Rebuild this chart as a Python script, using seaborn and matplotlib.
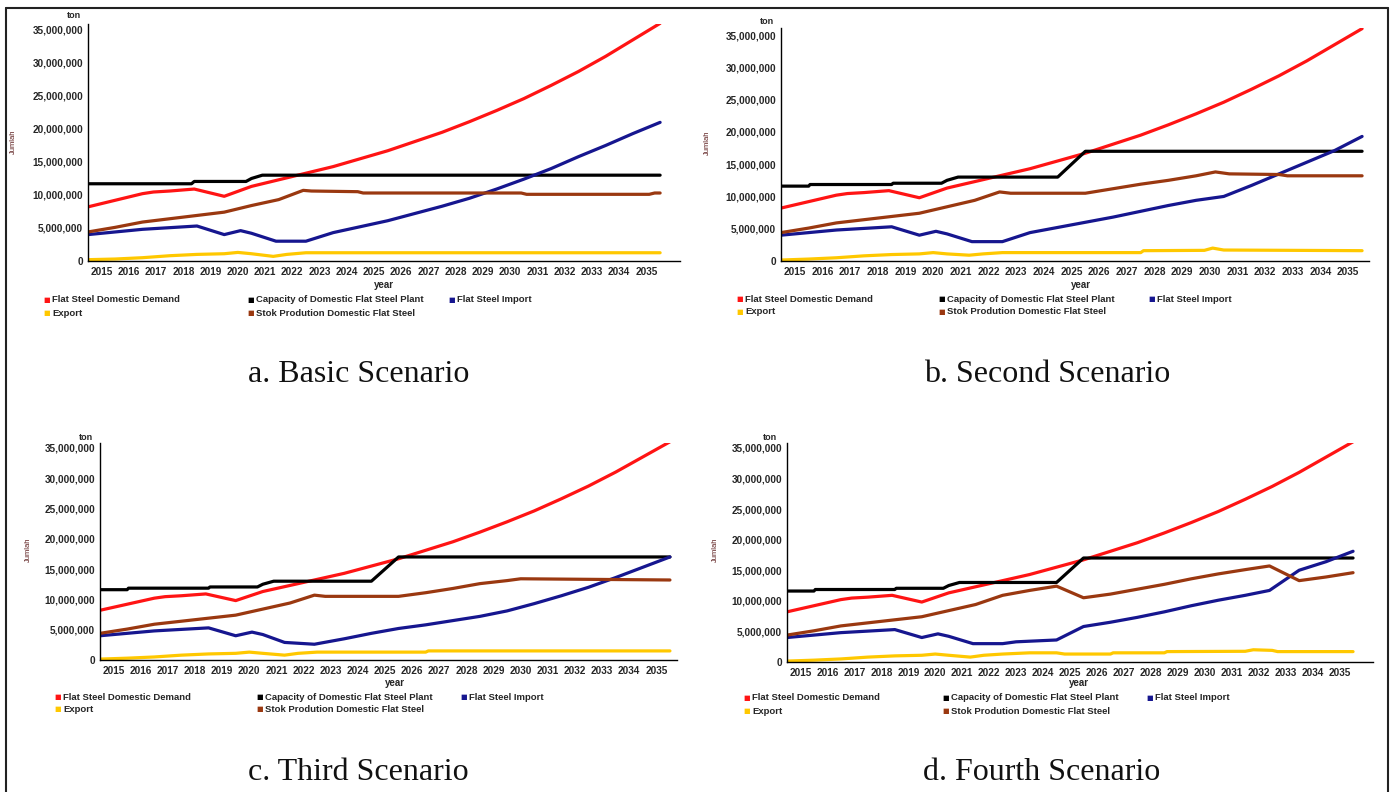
"""
Flat steel system-dynamics results: four scenarios in a 2x2 layout.
"""
import numpy as np
import pandas as pd
import seaborn as sns
import matplotlib
matplotlib.use("Agg")
import matplotlib.pyplot as plt
from matplotlib.lines import Line2D
from matplotlib.ticker import FuncFormatter, MultipleLocator

W, H = 1392, 792

SERIES = [
    "Flat Steel Domestic Demand",
    "Capacity of Domestic Flat Steel Plant",
    "Flat Steel Import",
    "Export",
    "Stok Prodution Domestic Flat Steel",
]
COLORS = ["#ff1414", "#000000", "#16168f", "#ffc800", "#9a3810"]
YEARS = list(range(2015, 2036))

# values in million ton, (year, value) breakpoints
DEMAND = [(2015, 8.2), (2016, 9.2), (2017, 10.2), (2017.4, 10.45), (2018, 10.6),
          (2018.9, 10.9), (2020, 9.8), (2021, 11.3), (2022, 12.3), (2023, 13.3),
          (2024, 14.3), (2025, 15.5), (2026, 16.7), (2027, 18.1), (2028, 19.5),
          (2029, 21.1), (2030, 22.8), (2031, 24.6), (2032, 26.6), (2033, 28.7),
          (2034, 31.0), (2035, 33.5), (2036, 36.0)]

CAPACITY_A = [(2015, 11.7), (2018.8, 11.7), (2018.9, 12.05), (2020.8, 12.05),
              (2021.0, 12.5), (2021.4, 13.0), (2036, 13.0)]
CAPACITY_BCD = [(2015, 11.6), (2016, 11.6), (2016.05, 11.85), (2019, 11.85),
                (2019.05, 12.05), (2020.8, 12.05), (2021.0, 12.5), (2021.4, 13.0),
                (2025, 13.0), (2026, 17.0), (2036, 17.0)]

IMPORT_A = [(2015, 4.0), (2016, 4.4), (2017, 4.8), (2018, 5.05), (2019, 5.3),
            (2020, 4.0), (2020.6, 4.6), (2021, 4.2), (2021.9, 3.0), (2023, 3.0),
            (2024, 4.3), (2025, 5.2), (2026, 6.1), (2027, 7.2), (2028, 8.3),
            (2029, 9.5), (2030, 10.9), (2031, 12.4), (2032, 14.0), (2033, 15.8),
            (2034, 17.5), (2035, 19.3), (2036, 21.0)]
IMPORT_B = [(2015, 4.0), (2016, 4.4), (2017, 4.8), (2018, 5.05), (2019, 5.3),
            (2020, 4.0), (2020.6, 4.6), (2021, 4.2), (2021.9, 3.0), (2023, 3.0),
            (2024, 4.4), (2025, 5.2), (2026, 6.0), (2027, 6.8), (2028, 7.7),
            (2029, 8.6), (2030, 9.4), (2031, 10.0), (2032, 11.7), (2033, 13.5),
            (2034, 15.3), (2035, 17.1), (2036, 19.3)]
IMPORT_C = [(2015, 4.0), (2016, 4.4), (2017, 4.8), (2018, 5.05), (2019, 5.3),
            (2020, 4.0), (2020.6, 4.6), (2021, 4.2), (2021.8, 2.9), (2022.9, 2.6),
            (2024, 3.5), (2025, 4.4), (2026, 5.2), (2027, 5.8), (2028, 6.5),
            (2029, 7.2), (2030, 8.1), (2031, 9.3), (2032, 10.6), (2033, 12.0),
            (2034, 13.6), (2035, 15.3), (2036, 17.0)]
IMPORT_D = [(2015, 4.0), (2016, 4.4), (2017, 4.8), (2018, 5.05), (2019, 5.3),
            (2020, 4.0), (2020.6, 4.6), (2021, 4.2), (2021.9, 3.0), (2023, 3.0),
            (2023.5, 3.3), (2024, 3.4), (2025, 3.6), (2026, 5.8), (2027, 6.5),
            (2028, 7.3), (2029, 8.2), (2030, 9.2), (2031, 10.1), (2032, 10.9),
            (2032.9, 11.7), (2034, 15.0), (2035, 16.4), (2036, 18.1)]

EXPORT_A = [(2015, 0.2), (2016, 0.3), (2017, 0.5), (2018, 0.8), (2019, 1.0),
            (2020, 1.1), (2020.5, 1.3), (2021, 1.1), (2021.8, 0.7), (2022.3, 1.0),
            (2023, 1.25), (2036, 1.25)]
EXPORT_B = [(2015, 0.15), (2016, 0.3), (2017, 0.5), (2018, 0.8), (2019, 1.0),
            (2020, 1.1), (2020.5, 1.3), (2021, 1.1), (2021.8, 0.9), (2022.3, 1.1),
            (2023, 1.3), (2028, 1.3), (2028.1, 1.6), (2030.3, 1.65), (2030.6, 2.0),
            (2031, 1.7), (2036, 1.6)]
EXPORT_C = [(2015, 0.15), (2016, 0.3), (2017, 0.5), (2018, 0.8), (2019, 1.0),
            (2020, 1.1), (2020.5, 1.3), (2021, 1.1), (2021.8, 0.8), (2022.3, 1.1),
            (2023, 1.3), (2027, 1.3), (2027.1, 1.5), (2036, 1.5)]
EXPORT_D = [(2015, 0.15), (2016, 0.3), (2017, 0.5), (2018, 0.8), (2019, 1.0),
            (2020, 1.1), (2020.5, 1.3), (2021, 1.1), (2021.8, 0.8), (2022.3, 1.1),
            (2023, 1.3), (2024, 1.5), (2025, 1.5), (2025.3, 1.3), (2027, 1.3),
            (2027.1, 1.5), (2029, 1.5), (2029.1, 1.7), (2032, 1.75), (2032.3, 2.0),
            (2033, 1.9), (2033.2, 1.7), (2036, 1.7)]

STOCK_A = [(2015, 4.4), (2016, 5.1), (2017, 5.9), (2018, 6.4), (2019, 6.9),
           (2020, 7.4), (2021, 8.4), (2022, 9.3), (2022.9, 10.7), (2023.2, 10.6),
           (2024.9, 10.5), (2025.1, 10.3), (2030.9, 10.3), (2031.1, 10.1),
           (2035.6, 10.1), (2035.8, 10.3), (2036, 10.3)]
STOCK_B = [(2015, 4.4), (2016, 5.1), (2017, 5.9), (2018, 6.4), (2019, 6.9),
           (2020, 7.4), (2021, 8.4), (2022, 9.4), (2022.9, 10.7), (2023.3, 10.5),
           (2026, 10.5), (2027, 11.2), (2028, 11.9), (2029, 12.5), (2030, 13.2),
           (2030.7, 13.8), (2031.2, 13.5), (2033, 13.4), (2033.3, 13.2), (2036, 13.2)]
STOCK_C = [(2015, 4.4), (2016, 5.1), (2017, 5.9), (2018, 6.4), (2019, 6.9),
           (2020, 7.4), (2021, 8.4), (2022, 9.4), (2022.9, 10.7), (2023.3, 10.5),
           (2026, 10.5), (2027, 11.1), (2028, 11.8), (2029, 12.6), (2030, 13.1),
           (2030.5, 13.4), (2036, 13.2)]
STOCK_D = [(2015, 4.4), (2016, 5.1), (2017, 5.9), (2018, 6.4), (2019, 6.9),
           (2020, 7.4), (2021, 8.4), (2022, 9.4), (2023, 10.9), (2024, 11.7),
           (2025, 12.4), (2026, 10.5), (2027, 11.1), (2028, 11.9), (2029, 12.7),
           (2030, 13.6), (2031, 14.4), (2032, 15.1), (2032.9, 15.7), (2034, 13.3),
           (2035, 13.9), (2036, 14.6)]

SCENARIOS = [
    ("a. Basic Scenario", [DEMAND, CAPACITY_A, IMPORT_A, EXPORT_A, STOCK_A]),
    ("b. Second Scenario", [DEMAND, CAPACITY_BCD, IMPORT_B, EXPORT_B, STOCK_B]),
    ("c. Third Scenario", [DEMAND, CAPACITY_BCD, IMPORT_C, EXPORT_C, STOCK_C]),
    ("d. Fourth Scenario", [DEMAND, CAPACITY_BCD, IMPORT_D, EXPORT_D, STOCK_D]),
]

# layout in pixels: axis left, top, right, zero-line; x limit; y limit (million)
LAYOUT = [
    dict(box=(88, 24, 680, 261), xmax=2036.73, ymax=35.9, ton=(74, 16), jumlah=(13, 142),
         year=(384, 285), leg_y=(300, 313), leg_x=(47, 251, 452), caption=(359, 375)),
    dict(box=(781, 28, 1369, 261), xmax=2036.25, ymax=36.1, ton=(767, 22), jumlah=(707, 143),
         year=(1081, 285), leg_y=(299, 312), leg_x=(740, 942, 1152), caption=(1047, 375)),
    dict(box=(100, 443, 677, 660), xmax=2036.26, ymax=35.8, ton=(86, 437), jumlah=(28, 550),
         year=(395, 683), leg_y=(697, 709), leg_x=(58, 260, 464), caption=(358, 773)),
    dict(box=(787, 443, 1373, 662), xmax=2036.74, ymax=35.8, ton=(770, 437), jumlah=(715, 550),
         year=(1079, 683), leg_y=(698, 711), leg_x=(747, 946, 1150), caption=(1042, 773)),
]

FONT = "Liberation Sans"


def px(x, y):
    return x / W, 1 - y / H


def scenario_frame(parts):
    rows = []
    for name, pts in zip(SERIES, parts):
        for t, v in pts:
            rows.append({"year": t, "value": v * 1e6, "series": name})
    return pd.DataFrame(rows)


def draw_panel(fig, caption, parts, lay):
    x0, yt, xr, y0 = lay["box"]
    ax = fig.add_axes([x0 / W, 1 - y0 / H, (xr - x0) / W, (y0 - yt) / H])
    df = scenario_frame(parts)
    sns.lineplot(data=df, x="year", y="value", hue="series", hue_order=SERIES,
                 palette=COLORS, estimator=None, linewidth=2.3, legend=False, ax=ax)
    ax.set_xlim(2015, lay["xmax"])
    ax.set_ylim(0, lay["ymax"] * 1e6)
    ax.set_xlabel("")
    ax.set_ylabel("")

    ax.set_xticks(range(2016, 2037))
    ax.set_xticks(np.arange(2015.5, 2036, 1.0), minor=True)
    ax.set_xticklabels([str(y) for y in YEARS], minor=True, fontweight="bold", family=FONT)
    ax.tick_params(axis="x", which="major", direction="inout", length=5, width=1,
                   labelbottom=False)
    ax.tick_params(axis="x", which="minor", length=0, labelsize=7.2, pad=4)
    ax.yaxis.set_major_locator(MultipleLocator(5e6))
    ax.yaxis.set_major_formatter(FuncFormatter(lambda v, _: f"{v:,.0f}"))
    ax.tick_params(axis="y", direction="inout", length=5, width=1, labelsize=7.2, pad=1)
    for lab in ax.get_yticklabels():
        lab.set_fontweight("bold")
        lab.set_family(FONT)
    for s in ["top", "right"]:
        ax.spines[s].set_visible(False)
    for s in ["left", "bottom"]:
        ax.spines[s].set_color("black")
        ax.spines[s].set_linewidth(1.0)

    fig.text(*px(*lay["ton"]), "ton", fontsize=6.5, fontweight="bold", family=FONT,
             ha="center", va="center")
    fig.text(*px(*lay["jumlah"]), "Jumlah", fontsize=5.5, color="#5a1a1a", family=FONT,
             rotation=90, ha="center", va="center")
    fig.text(*px(*lay["year"]), "year", fontsize=7, fontweight="bold", family=FONT,
             ha="center", va="center")

    # legend: three columns, second row holds Export and Stok
    slots = [(0, 0), (1, 0), (2, 0), (0, 1), (1, 1)]
    for name, color, (col, row) in zip(SERIES, COLORS, slots):
        lx = lay["leg_x"][col]
        ly = lay["leg_y"][row]
        fig.text(*px(lx, ly), "\u25a0", color=color, fontsize=5, ha="center", va="center",
                 family="DejaVu Sans")
        fig.text(*px(lx + 5, ly), name, fontsize=6.8, fontweight="bold", family=FONT,
                 ha="left", va="center")

    fig.text(*px(*lay["caption"]), caption, fontsize=23, family="Liberation Serif",
             ha="center", va="center", color="#111111")
    return ax


def main():
    sns.set_theme(style="white")
    plt.rcParams["font.family"] = [FONT, "DejaVu Sans"]
    fig = plt.figure(figsize=(W / 100, H / 100), dpi=100)

    for (caption, parts), lay in zip(SCENARIOS, LAYOUT):
        draw_panel(fig, caption, parts, lay)

    # outer frame of the screenshot
    for xs, ys in [((6, 6), (8, 792)), ((6, 1388), (8, 8)), ((1388, 1388), (8, 792))]:
        fig.add_artist(Line2D([x / W for x in xs], [1 - y / H for y in ys],
                              transform=fig.transFigure, color="#222222", linewidth=1.5))

    fig.savefig("out.png", dpi=100)


if __name__ == "__main__":
    main()
